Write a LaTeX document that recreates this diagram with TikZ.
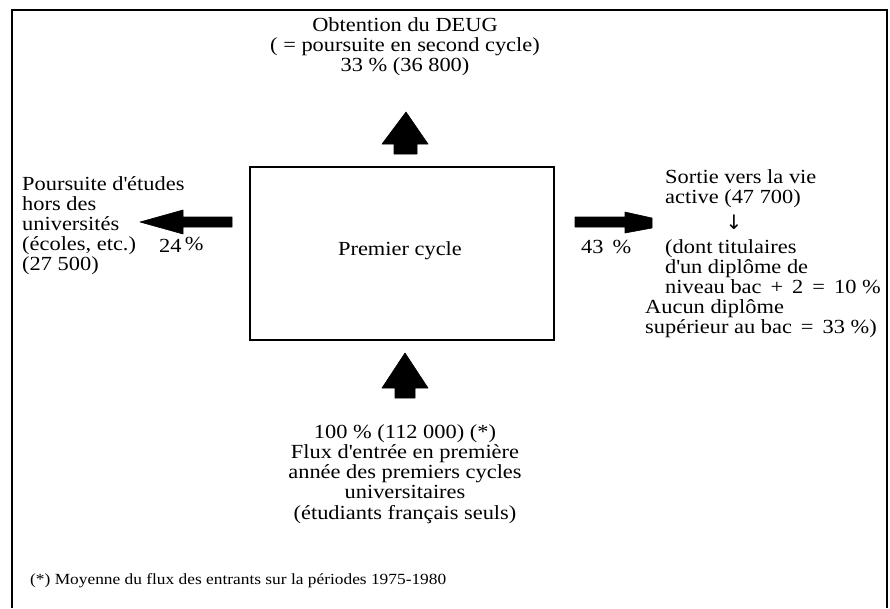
\documentclass[tikz,border=0pt]{standalone}
\usepackage{fontspec}
\setmainfont{Liberation Serif}[FakeStretch=1.12]
\newfontfamily\symfont{DejaVu Sans}
\newcommand\wsp{\hspace{0.45em}}
\newcommand\apo{\textquotesingle}
\begin{document}
\begin{tikzpicture}[x=1pt,y=-1pt,
  txt/.style={font=\fontsize{20}{20}\selectfont, inner sep=0pt, anchor=north, align=center},
  ltxt/.style={txt, anchor=north west, align=left},
  blockarrow/.style={fill=black, draw=black, line width=0.6pt, line join=round},
  frameline/.style={line width=2pt}]
\useasboundingbox (0,0) rectangle (890,608);
% frame
\draw[frameline] (12,608) -- (12,10) -- (887,10) -- (887,608);
% central box
\node[draw, line width=2pt, minimum width=304pt, minimum height=173pt, inner sep=0pt] (box) at (402,253.5) {};
\node[txt, anchor=base] (pc) at (400,255) {Premier cycle};
% top
\node[txt] (top) at (405,17) {\strut Obtention du DEUG\\\strut ( = poursuite en second cycle)\\\strut 33 \% (36 800)};
\fill[blockarrow] (394,154) -- (394,144) -- (382,144) -- (406,112) -- (428,144) -- (417,144) -- (417,154) -- cycle;
% bottom
\fill[blockarrow] (395,398) -- (395,388) -- (382,388) -- (405,353) -- (428,388) -- (415,388) -- (415,398) -- cycle;
\node[txt] (bot) at (405,424) {\strut 100 \% (112 000) (*)\\\strut Flux d\apo entrée en première\\\strut année des premiers cycles\\\strut universitaires\\\strut (étudiants français seuls)};
% left
\fill[blockarrow] (232,217) -- (183,217) -- (183,210) -- (140,222) -- (183,234) -- (183,227) -- (232,227) -- cycle;
\node[ltxt] (left) at (22,176) {\strut Poursuite d\apo études\\\strut hors des\\\strut universités\\\strut (écoles, etc.)\\\strut (27 500)};
\node[txt, anchor=base west] (p24) at (159,252) {24\,\raisebox{2pt}{\%}};
% right
\fill[blockarrow] (575,217) -- (625,217) -- (625,212) -- (652,218) -- (652,228) -- (625,233) -- (625,227) -- (575,227) -- cycle;
\node[txt, anchor=base west] (p43) at (581,253) {43\wsp\%};
\node[ltxt] (r1) at (665,169) {\strut Sortie vers la vie\\\strut active (47 700)};
\node[inner sep=0pt, font=\symfont\fontsize{20}{20}\selectfont] (dn) at (734,222) {↓};
\node[ltxt] (r2) at (665,239) {\strut (dont titulaires\\\strut d\apo un diplôme de\\\strut niveau bac\wsp+\wsp2\wsp=\wsp10 \%};
\node[ltxt] (r3) at (645,299) {\strut Aucun diplôme\\\strut supérieur au bac\wsp=\wsp33 \%)};
% footnote
\node[inner sep=0pt, anchor=base west, font=\fontsize{15.5}{16}\selectfont] (fn) at (30,584) {(*) Moyenne du flux des entrants sur la périodes 1975-1980};
\end{tikzpicture}
\end{document}
